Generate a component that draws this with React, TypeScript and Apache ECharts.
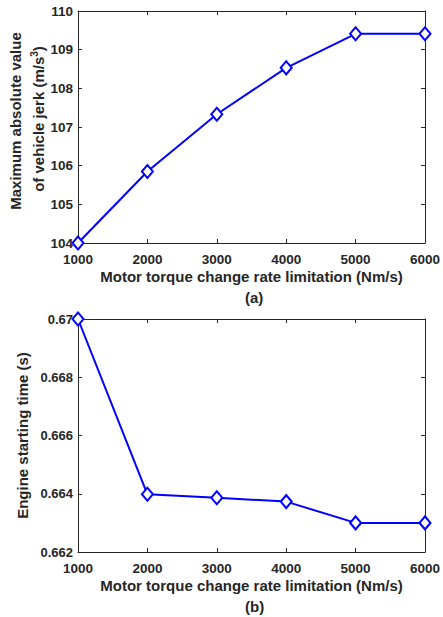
import React, { useEffect, useRef } from "react";
import * as echarts from "echarts";

const rateLimits = [1000, 2000, 3000, 4000, 5000, 6000];
const jerkValues = [104.0, 105.85, 107.33, 108.53, 109.41, 109.41];
const startTimes = [0.67, 0.66398, 0.66386, 0.66373, 0.663, 0.663];

const FONT = "Liberation Sans";
const TXT = "#262626";

function makeX(gridIndex: number, position: "bottom" | "top", showLabels: boolean) {
  return {
    type: "value",
    gridIndex,
    position,
    min: 1000,
    max: 6000,
    interval: 1000,
    axisLine: { show: true, onZero: false, lineStyle: { color: TXT, width: 1 } },
    axisTick: { show: true, inside: true, length: 4, lineStyle: { color: TXT } },
    splitLine: { show: false },
    axisLabel: {
      show: showLabels,
      color: TXT,
      fontFamily: FONT,
      fontWeight: "bold",
      fontSize: 13.5,
      margin: 9,
      formatter: (v: number) => String(v),
    },
    name: showLabels ? "Motor torque change rate limitation (Nm/s)" : "",
    nameLocation: "middle",
    nameGap: 26,
    nameTextStyle: { color: TXT, fontFamily: FONT, fontWeight: "bold", fontSize: 15, verticalAlign: "top" },
  };
}

export default function App() {
  const ref = useRef<HTMLDivElement>(null);
  useEffect(() => {
    document.body.style.margin = "0";
    const chart = echarts.init(ref.current!, undefined, { renderer: "svg" });
    const yBase = (gridIndex: number, position: "left" | "right", showLabels: boolean) => ({
      type: "value",
      gridIndex,
      position,
      axisLine: { show: true, lineStyle: { color: TXT, width: 1 } },
      axisTick: { show: true, inside: true, length: 4, lineStyle: { color: TXT } },
      splitLine: { show: false },
      axisLabel: {
        show: showLabels,
        color: TXT,
        fontFamily: FONT,
        fontWeight: "bold",
        fontSize: 13.5,
        margin: 5,
      },
    });
    const nameFont = `bold 15px "${FONT}"`;
    chart.setOption({
      animation: false,
      backgroundColor: "#ffffff",
      grid: [
        { left: 78, right: 18, top: 11, height: 232, containLabel: false, outerBoundsMode: "none" },
        { left: 78, right: 18, top: 319, height: 233, containLabel: false, outerBoundsMode: "none" },
      ],
      xAxis: [
        makeX(0, "bottom", true),
        makeX(0, "top", false),
        makeX(1, "bottom", true),
        makeX(1, "top", false),
      ],
      yAxis: [
        { ...yBase(0, "left", true), min: 104, max: 110, interval: 1 },
        { ...yBase(0, "right", false), min: 104, max: 110, interval: 1 },
        {
          ...yBase(1, "left", true),
          min: 0.662,
          max: 0.67,
          interval: 0.002,
          axisLabel: {
            show: true,
            color: TXT,
            fontFamily: FONT,
            fontWeight: "bold",
            fontSize: 13,
            margin: 5,
            formatter: (v: number) => String(parseFloat(v.toFixed(3))),
          },
          name: "Engine starting time (s)",
          nameLocation: "middle",
          nameGap: 46,
          nameRotate: 90,
          nameTextStyle: { color: TXT, fontFamily: FONT, fontWeight: "bold", fontSize: 15 },
        },
        { ...yBase(1, "right", false), min: 0.662, max: 0.67, interval: 0.002 },
      ],
      graphic: [
        {
          type: "text",
          x: 15,
          y: 121,
          rotation: Math.PI / 2,
          style: { text: "Maximum absolute value", fill: TXT, font: nameFont, align: "center", verticalAlign: "middle" },
        },
        {
          type: "text",
          x: 38,
          y: 119,
          rotation: Math.PI / 2,
          style: {
            text: "{t|of vehicle jerk (m/s}{s|3}{t|)}",
            align: "center",
            verticalAlign: "middle",
            rich: {
              t: { fill: TXT, font: nameFont, lineHeight: 18 },
              s: { fill: TXT, font: `bold 10px "${FONT}"`, verticalAlign: "top", lineHeight: 18, padding: [0, 0, 8, 0] },
            },
          },
        },
        { type: "text", left: 245, top: 290, style: { text: "(a)", fill: TXT, font: nameFont } },
        { type: "text", left: 245, top: 599, style: { text: "(b)", fill: TXT, font: nameFont } },
      ],
      series: [
        {
          type: "line",
          xAxisIndex: 0,
          yAxisIndex: 0,
          data: rateLimits.map((x, i) => [x, jerkValues[i]]),
          lineStyle: { color: "#0000ff", width: 2 },
          itemStyle: { color: "#ffffff", borderColor: "#0000ff", borderWidth: 2 },
          symbol: "diamond",
          symbolSize: [11, 13],
          showAllSymbol: true,
        },
        {
          type: "line",
          xAxisIndex: 2,
          yAxisIndex: 2,
          data: rateLimits.map((x, i) => [x, startTimes[i]]),
          lineStyle: { color: "#0000ff", width: 2 },
          itemStyle: { color: "#ffffff", borderColor: "#0000ff", borderWidth: 2 },
          symbol: "diamond",
          symbolSize: [11, 13],
          showAllSymbol: true,
        },
      ],
    });
    return () => chart.dispose();
  }, []);
  return <div ref={ref} style={{ position: "absolute", left: 0, top: 0, width: 443, height: 617 }} />;
}
